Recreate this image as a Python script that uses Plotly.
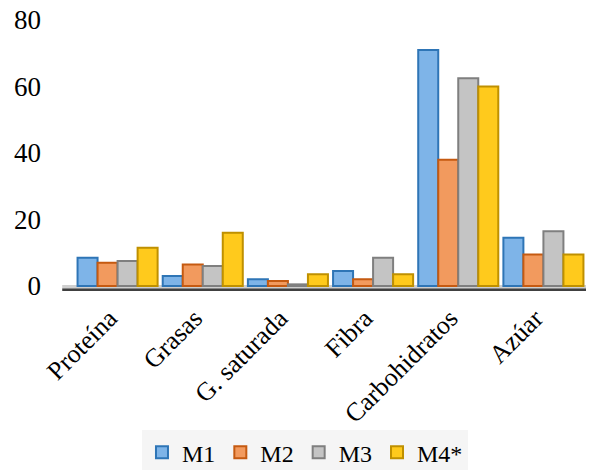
import plotly.graph_objects as go

categories = ["Proteína", "Grasas", "G. saturada", "Fibra", "Carbohidratos", "Azúar"]
m1 = [8.5, 3.0, 2.0, 4.5, 71.0, 14.5]
m2 = [7.0, 6.5, 1.5, 2.0, 38.0, 9.5]
m3 = [7.5, 6.0, 0.5, 8.5, 62.5, 16.5]
m4 = [11.5, 16.0, 3.5, 3.5, 60.0, 9.5]

series = [
    ("M1", m1, "#7eb4e8", "#2e75b6"),
    ("M2", m2, "#f29a5e", "#c55a11"),
    ("M3", m3, "#c4c4c4", "#7f7f7f"),
    ("M4*", m4, "#ffca1c", "#bf9000"),
]

fig = go.Figure()
for name, vals, fill, edge in series:
    fig.add_trace(go.Bar(
        x=categories, y=vals, name=name,
        marker=dict(color=fill, line=dict(color=edge, width=2)),
    ))

font_family = "Times New Roman, Liberation Serif, serif"

fig.update_layout(
    width=598, height=470,
    margin=dict(l=75, r=12, t=20, b=179, autoexpand=False),
    paper_bgcolor="white", plot_bgcolor="white",
    barmode="group", bargap=0.06, bargroupgap=0.0,
    font=dict(family=font_family, size=24, color="black"),
    showlegend=True,
    legend=dict(
        orientation="h", xref="container", yref="container",
        x=0.51, xanchor="center", y=0.085, yanchor="top",
        bgcolor="#f5f5f5", font=dict(size=24, family=font_family),
        itemwidth=30, traceorder="normal",
    ),
    xaxis=dict(
        type="category", range=[-0.5, 5.5], tickangle=-45, automargin=False,
        showgrid=False, showline=False, zeroline=False, ticks="",
        ticklabelstandoff=6, ticklabelshift=-8,
        tickfont=dict(size=26, family=font_family),
    ),
    yaxis=dict(
        range=[-1.5, 80], tickvals=[0, 20, 40, 60, 80], automargin=False,
        showgrid=False, showline=False, zeroline=False, ticks="",
        ticklabelstandoff=33,
        tickfont=dict(size=27, family=font_family),
    ),
    shapes=[
        # floor plane under the bars
        dict(type="rect", xref="paper", yref="y", x0=-0.025, x1=1.0, y0=-1.0, y1=0.3,
             fillcolor="#cfcfcf", line=dict(width=0), layer="below"),
        dict(type="line", xref="paper", yref="y", x0=-0.025, x1=1.0, y0=-1.2, y1=-1.2,
             line=dict(color="#404040", width=3), layer="below"),
    ],
)

fig.write_html("out.html")
